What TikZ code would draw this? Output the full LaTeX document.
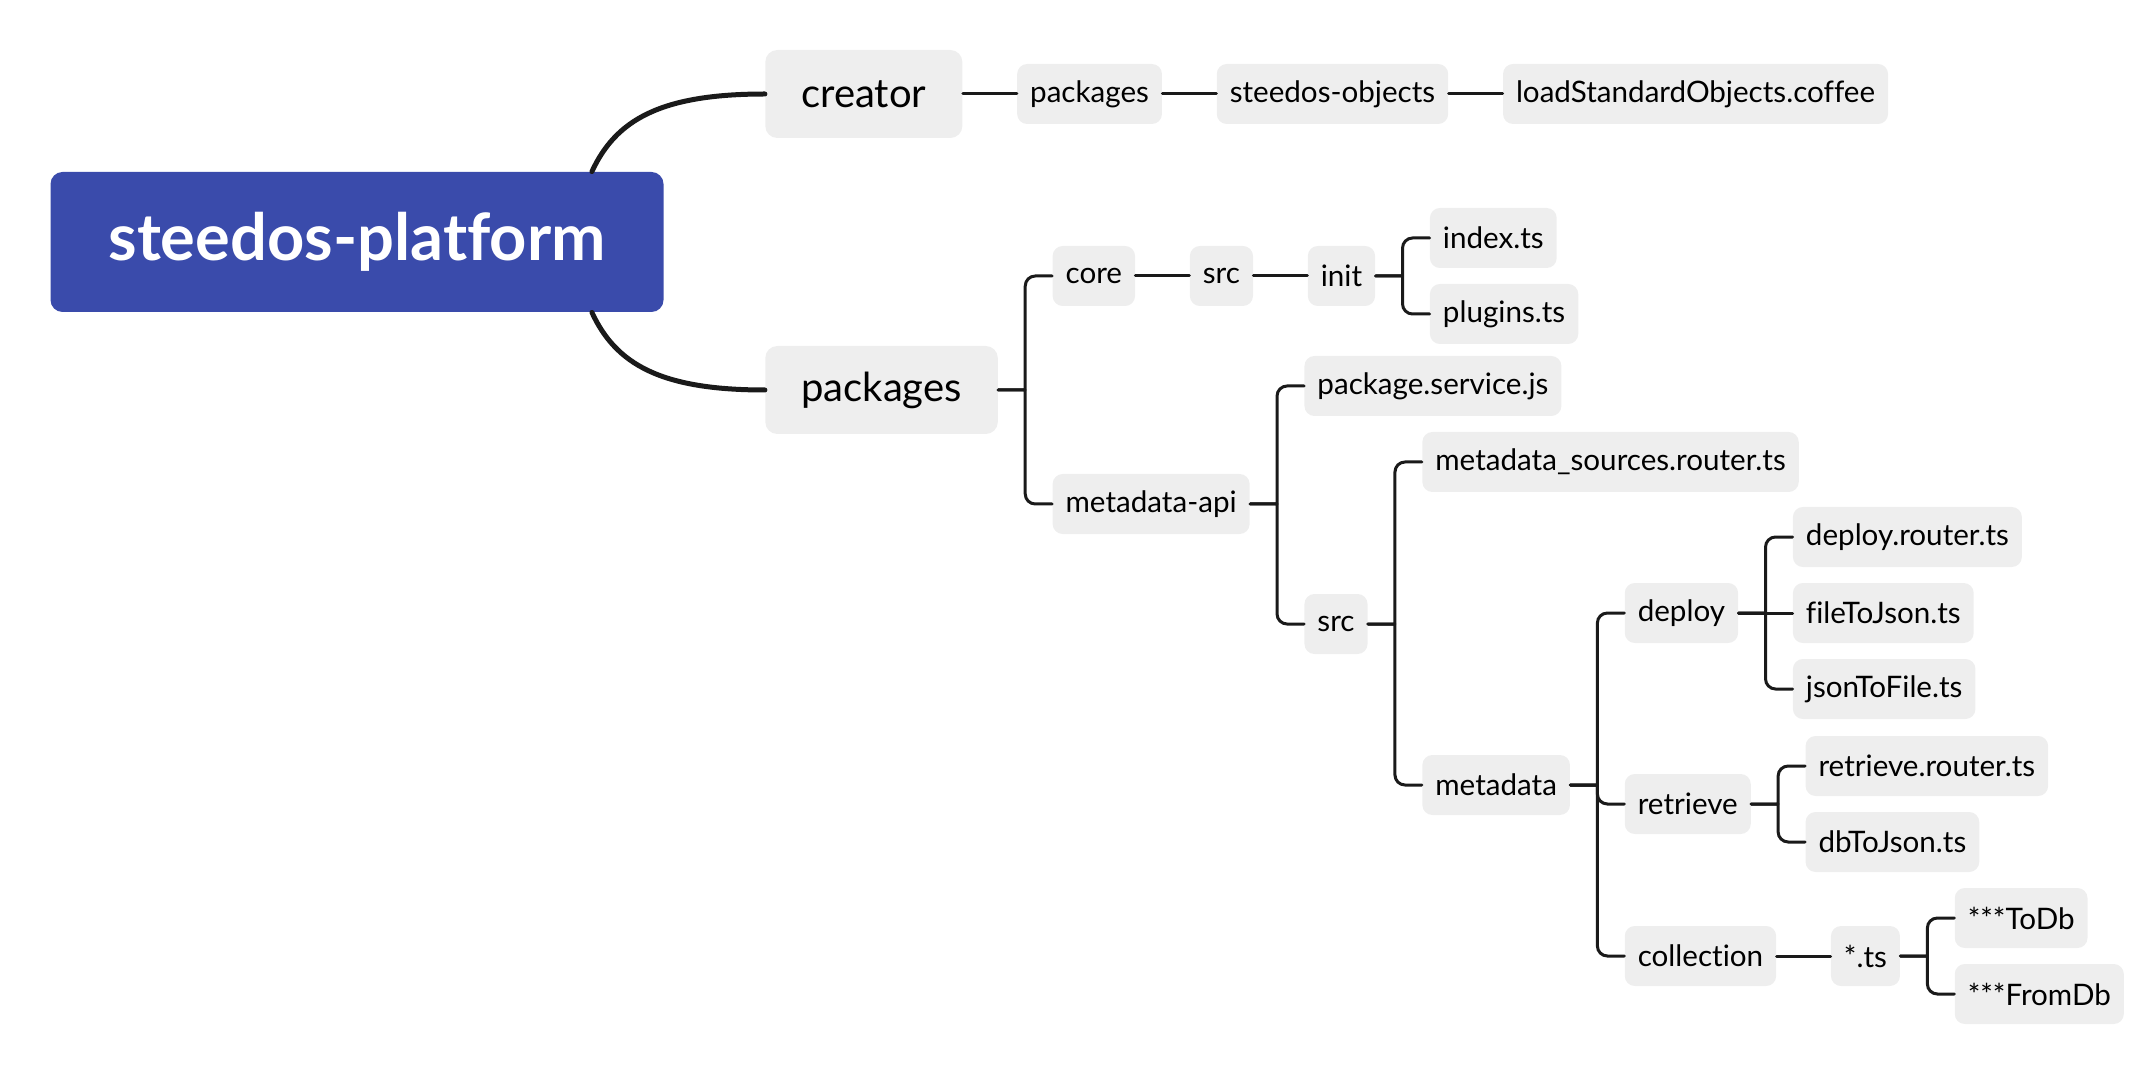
\documentclass[tikz,border=0pt]{standalone}
\usepackage{fontspec}
\setmainfont{Lato}[Ligatures=NoCommon]
\usepackage{tikz}
\usetikzlibrary{positioning}
\definecolor{rootblue}{HTML}{3A4BAB}
\definecolor{boxgray}{HTML}{EEEEEE}
\definecolor{ink}{HTML}{1A1A1A}

\begin{document}
\begin{tikzpicture}[x=0.5pt, y=-0.5pt, line cap=round]
\tikzstyle{root}=[fill=rootblue,text=white,rounded corners=6pt,minimum width=306.5pt,minimum height=70pt,font=\bfseries\fontsize{32.5}{38}\selectfont]
\tikzstyle{topic}=[fill=boxgray,text=black,rounded corners=6pt,inner xsep=18pt,minimum height=44pt,font=\fontsize{20}{24}\selectfont]
\tikzstyle{leaf}=[fill=boxgray,text=black,rounded corners=5pt,inner xsep=6.5pt,minimum height=30pt,font=\fontsize{14.8}{18}\selectfont]
\tikzstyle{trunk}=[draw=ink,line width=2.5pt]
\tikzstyle{link}=[draw=ink,line width=1.5pt]
\tikzstyle{fork}=[draw=ink,line width=1.5pt,rounded corners=5pt,
  to path={(\tikztostart.east) -- ([xshift=13.5pt]\tikztostart.east) ([xshift=13.5pt]\tikztostart.east) |- (\tikztotarget.west)}]
\useasboundingbox (0,0) rectangle (2156,1074);

\node[root]    (root) at (357,242)  {steedos-platform};
\node[topic]   (creator)  [right=50.5pt of root, yshift=74pt]  {creator};
\node[topic]   (packages) [right=50.5pt of root, yshift=-74pt] {packages};

\node[leaf]    (crpkg)    [right=27pt of creator]  {packages};
\node[leaf]    (objects)  [right=27pt of crpkg]    {steedos-objects};
\node[leaf]    (loadstd)  [right=27pt of objects]  {loadStandardObjects.coffee};

\node[leaf]    (core)     [right=27pt of packages, yshift=57pt]  {core};
\node[leaf]    (mdapi)    [right=27pt of packages, yshift=-57pt] {metadata-api};
\node[leaf]    (coresrc)  [right=27pt of core]     {src};
\node[leaf]    (init)     [right=27pt of coresrc]  {init};
\node[leaf]    (index)    [right=27pt of init, yshift=19pt]  {index.ts};
\node[leaf]    (plugins)  [right=27pt of init, yshift=-19pt] {plugins.ts};

\node[leaf]    (pkgsvc)   [right=27pt of mdapi, yshift=59pt]  {package.service.js};
\node[leaf]    (mdsrc)    [right=27pt of mdapi, yshift=-60pt] {src};
\node[leaf]    (sources)  [right=27pt of mdsrc, yshift=81pt]    {metadata\_sources.router.ts};
\node[leaf]    (metadata) [right=27pt of mdsrc, yshift=-80.5pt] {metadata};

\node[leaf]    (deploy)     [right=27pt of metadata, yshift=86pt]   {deploy};
\node[leaf]    (retrieve)   [right=27pt of metadata, yshift=-9.5pt] {retrieve};
\node[leaf]    (collection) [right=27pt of metadata, yshift=-85.5pt] {collection};
\node[leaf]    (deployrt)   [right=27pt of deploy, yshift=38pt]  {deploy.router.ts};
\node[leaf]    (filejson)   [right=27pt of deploy]               {fileToJson.ts};
\node[leaf]    (jsonfile)   [right=27pt of deploy, yshift=-38pt] {jsonToFile.ts};
\node[leaf]    (retrievert) [right=27pt of retrieve, yshift=19pt]  {retrieve.router.ts};
\node[leaf]    (dbjson)     [right=27pt of retrieve, yshift=-19pt] {dbToJson.ts};
\node[leaf]    (anyts)      [right=27pt of collection] {*.ts};
\node[leaf]    (todb)       [right=27pt of anyts, yshift=19pt]  {***ToDb};
\node[leaf]    (fromdb)     [right=27pt of anyts, yshift=-19pt] {***FromDb};

% main branches
\draw[trunk] ([xshift=-36pt]root.north east) .. controls +(12pt,26pt) and +(-52pt,0pt) .. (creator.west);
\draw[trunk] ([xshift=-36pt]root.south east) .. controls +(12pt,-26pt) and +(-52pt,0pt) .. (packages.west);

\path
(creator)  edge[link] (crpkg)
(crpkg)    edge[link] (objects)
(objects)  edge[link] (loadstd)
(packages) edge[fork] (core)
           edge[fork] (mdapi)
(core)     edge[link] (coresrc)
(coresrc)  edge[link] (init)
(init)     edge[fork] (index)
           edge[fork] (plugins)
(mdapi)    edge[fork] (pkgsvc)
           edge[fork] (mdsrc)
(mdsrc)    edge[fork] (sources)
           edge[fork] (metadata)
(metadata) edge[fork] (deploy)
           edge[fork] (retrieve)
           edge[fork] (collection)
(deploy)   edge[fork] (deployrt)
           edge[link] (filejson)
           edge[fork] (jsonfile)
(retrieve) edge[fork] (retrievert)
           edge[fork] (dbjson)
(collection) edge[link] (anyts)
(anyts)    edge[fork] (todb)
           edge[fork] (fromdb);
\end{tikzpicture}
\end{document}
